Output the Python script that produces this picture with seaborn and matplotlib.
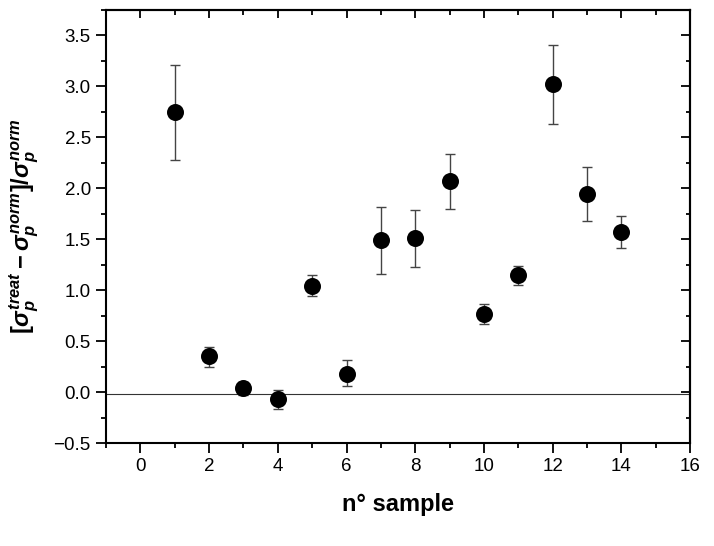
import numpy as np
import pandas as pd
import matplotlib
matplotlib.use('Agg')
import matplotlib.pyplot as plt
import seaborn as sns

# values
samples = [1, 2, 3, 4, 5, 6, 7, 8, 9, 10, 11, 12, 13, 14]
ratio = [2.75, 0.35, 0.04, -0.065, 1.045, 0.18, 1.49, 1.51, 2.07, 0.77, 1.15, 3.02, 1.94, 1.57]
err_low = [0.47, 0.10, 0.07, 0.10, 0.105, 0.125, 0.335, 0.28, 0.27, 0.105, 0.10, 0.385, 0.26, 0.16]
err_high = [0.46, 0.095, 0.055, 0.09, 0.105, 0.13, 0.33, 0.275, 0.27, 0.095, 0.09, 0.39, 0.265, 0.155]
baseline = -0.015

df = pd.DataFrame({'sample': samples, 'ratio': ratio})

sns.set_style('ticks')
plt.rcParams['font.family'] = ['Liberation Sans', 'DejaVu Sans']
plt.rcParams['mathtext.fontset'] = 'custom'
plt.rcParams['mathtext.rm'] = 'Liberation Sans:bold'
plt.rcParams['mathtext.it'] = 'Liberation Sans:italic:bold'
plt.rcParams['mathtext.bf'] = 'Liberation Sans:bold'
for key in ['text.color', 'axes.labelcolor', 'xtick.color', 'ytick.color', 'axes.edgecolor']:
    plt.rcParams[key] = 'black'

fig = plt.figure(figsize=(7.14, 5.46), dpi=100)
ax = fig.add_axes([0.1485, 0.1886, 0.818, 0.7931])

ax.axhline(baseline, color='#333333', lw=0.8, zorder=1)
ax.errorbar(df['sample'], df['ratio'], yerr=[err_low, err_high], fmt='none',
            ecolor='#444444', elinewidth=1.0, capsize=3.5, capthick=1.0, zorder=2)
sns.scatterplot(data=df, x='sample', y='ratio', ax=ax, color='black', s=150,
                edgecolor='black', linewidth=0, zorder=3)

ax.set_xlim(-1, 16)
ax.set_ylim(-0.5, 3.75)
ax.set_xticks(np.arange(0, 17, 2))
ax.set_xticks(np.arange(-1, 17, 1), minor=True)
ax.set_yticks(np.arange(-0.5, 3.51, 0.5))
ax.set_yticks(np.arange(-0.5, 3.76, 0.25), minor=True)
ax.set_yticklabels([f'{v:.1f}'.replace('-', '\u2212') for v in np.arange(-0.5, 3.51, 0.5)])
ax.tick_params(which='major', direction='out', length=7, width=1.3, labelsize=13.5, pad=4)
ax.tick_params(which='minor', direction='out', length=3.5, width=1.3)

# mirrored inward ticks on top and right
top = ax.secondary_xaxis('top')
top.set_xticks(np.arange(0, 17, 2))
top.set_xticks(np.arange(-1, 17, 1), minor=True)
top.tick_params(which='major', direction='in', length=6, width=1.3, labeltop=False)
top.tick_params(which='minor', direction='in', length=3.5, width=1.3)
right = ax.secondary_yaxis('right')
right.set_yticks(np.arange(-0.5, 3.51, 0.5))
right.set_yticks(np.arange(-0.5, 3.76, 0.25), minor=True)
right.tick_params(which='major', direction='in', length=6.5, width=1.3, labelright=False)
right.tick_params(which='minor', direction='in', length=3, width=1.3)
for a in (ax, top, right):
    for sp in a.spines.values():
        sp.set_linewidth(1.5)

ax.set_xlabel('n\u00b0 sample', fontsize=17, fontweight='bold', labelpad=13)
ax.set_ylabel(r'$[\sigma_p^{treat}-\sigma_p^{norm}]/\sigma_p^{norm}$', fontsize=17, labelpad=9)

fig.savefig('out.png', dpi=100)
